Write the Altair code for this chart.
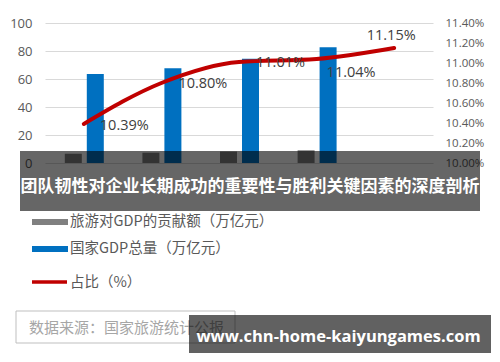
import altair as alt
import pandas as pd

# ---- data ----
years = ["2014", "2015", "2016", "2017", "2018"]
tourism_contrib = [6.61, 7.34, 8.19, 9.13, None]      # 旅游对GDP的贡献额（万亿元）
gdp_total = [63.6, 67.7, 74.4, 82.7, None]            # 国家GDP总量（万亿元）
share_pct = [10.39, 10.80, 11.01, 11.04, 11.15]       # 占比（%）
left_ticks = [0, 20, 40, 60, 80, 100]
right_ticks = [10.0, 10.2, 10.4, 10.6, 10.8, 11.0, 11.2, 11.4]

legend_labels = ["旅游对GDP的贡献额（万亿元）", "国家GDP总量（万亿元）", "占比（%）"]
source_text = "数据来源：国家旅游统计公报"
banner_text = "团队韧性对企业长期成功的重要性与胜利关键因素的深度剖析"
watermark_text = "www.chn-home-kaiyungames.com"

df = pd.DataFrame({"year": years, "tourism": tourism_contrib,
                   "gdp": gdp_total, "share": share_pct})

GRAY = "#808080"
BLUE = "#0070C0"
RED = "#C00000"
TXT = "#595959"
NUM_FONT = "Open Sans"
CJK = "Noto Sans CJK SC"

x_enc = alt.X("year:O", sort=years, axis=None,
              scale=alt.Scale(paddingInner=0, paddingOuter=0))

left_axis = alt.Axis(values=left_ticks, grid=True, gridColor="#d9d9d9",
                     domain=False, ticks=False, labelPadding=13,
                     labelFont=NUM_FONT, labelFontSize=13, labelColor=TXT,
                     title=None)
right_axis = alt.Axis(orient="right", values=right_ticks, grid=False,
                      domain=False, ticks=False, labelPadding=12,
                      labelFont=NUM_FONT, labelFontSize=11.5, labelColor=TXT,
                      labelExpr="format(datum.value, '.2f') + '%'", title=None)

y_left_t = alt.Y("tourism:Q", scale=alt.Scale(domain=[0, 100], nice=False), axis=left_axis)
y_left_g = alt.Y("gdp:Q", scale=alt.Scale(domain=[0, 100], nice=False), axis=left_axis)
y_right = alt.Y("share:Q", scale=alt.Scale(domain=[10.0, 11.4], nice=False, zero=False),
                axis=right_axis)

base = alt.Chart(df)

gray_bars = base.mark_bar(size=17, xOffset=-10.5, color=GRAY).encode(x=x_enc, y=y_left_t)
blue_bars = base.mark_bar(size=17, xOffset=11.5, color=BLUE).encode(x=x_enc, y=y_left_g)
left_group = alt.layer(gray_bars, blue_bars)

line = base.mark_line(color=RED, strokeWidth=4, interpolate="monotone",
                      strokeCap="round").encode(x=x_enc, y=y_right)

label_styles = [
    dict(align="left", dx=16, dy=2),
    dict(align="left", dx=17, dy=1),
    dict(align="left", dx=17, dy=1),
    dict(align="left", dx=10, dy=14),
    dict(align="center", dx=-3, dy=-12),
]
label_layers = []
for yr, st in zip(years, label_styles):
    label_layers.append(
        base.transform_filter(alt.datum.year == yr)
        .transform_calculate(label="format(datum.share, '.2f') + '%'")
        .mark_text(baseline="middle", font=NUM_FONT, fontSize=14.5, color="#404040", **st)
        .encode(x=x_enc, y=y_right, text="label:N")
    )
right_group = alt.layer(line, *label_layers)

one = alt.Data(values=[{"k": 1}])

def box(x, x2, y, y2, **kw):
    return alt.Chart(one).mark_rect(**kw).encode(
        x=alt.value(x), x2=alt.value(x2), y=alt.value(y), y2=alt.value(y2))

def label(txt, x, y, **kw):
    return alt.Chart(one).mark_text(text=txt, baseline="middle", **kw).encode(
        x=alt.value(x), y=alt.value(y))

overlays = [
    # legend
    box(-13, 23, 196, 202, color=GRAY),
    label(legend_labels[0], 25, 199, align="left", font=CJK, fontSize=14.5, color=TXT),
    box(-13, 23, 223, 229, color=BLUE),
    label(legend_labels[1], 25, 226, align="left", font=CJK, fontSize=14.5, color=TXT),
    alt.Chart(one).mark_rule(color=RED, strokeWidth=3.5).encode(
        x=alt.value(-13), x2=alt.value(22), y=alt.value(259)),
    label(legend_labels[2], 25, 260, align="left", font=CJK, fontSize=14.5, color=TXT),
    # source box
    box(-29, 190, 288, 320, fill="white", stroke="#bfbfbf", strokeWidth=1),
    label(source_text, -16, 305, align="left", font=CJK, fontSize=15, color="#a6a6a6"),
    # banner overlay
    box(-25, 435, 128, 188, color="black", opacity=0.6),
    label(banner_text, 205, 164, align="center", font=CJK, fontSize=17,
          fontWeight="bold", color="white"),
    # watermark overlay
    box(144, 446, 292, 330, color="black", opacity=0.62),
    label(watermark_text, 293.5, 314, align="center", font=NUM_FONT, fontSize=16.5,
          fontWeight="bold", color="white"),
]

chart = alt.layer(left_group, right_group, *overlays).resolve_scale(
    y="independent"
).properties(
    width=388, height=140,
    padding={"left": 37, "top": 15, "right": 59, "bottom": 191},
    autosize=alt.AutoSizeParams(type="none"),
    background="white",
).configure_view(stroke=None)

chart.save("out.html", embed_options={"renderer": "svg", "actions": False})
